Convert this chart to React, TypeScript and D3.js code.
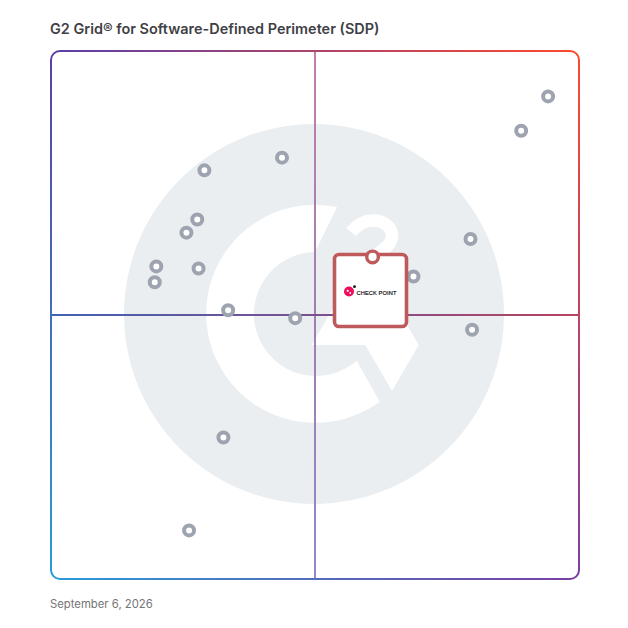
import React from "react";
import * as d3 from "d3";

const titleText = "G2 Grid® for Software-Defined Perimeter (SDP)";
const dateText = "September 6, 2026";
const vendorLabel = "CHECK POINT";

const satisfaction = [43.75, 29.05, 27.7, 25.65, 19.95, 19.65, 27.95, 33.55, 46.25, 32.65, 68.65, 79.45, 79.75, 94.15, 89.05, 26.15];
const marketPresence = [79.8, 77.4, 68.1, 65.6, 59.2, 56.2, 58.8, 50.9, 49.4, 26.8, 57.3, 64.4, 47.2, 91.4, 84.9, 9.2];
const highlightedPoint = [60.9, 61.0];

const x = d3.scaleLinear().domain([0, 100]).range([51, 579]);
const y = d3.scaleLinear().domain([0, 100]).range([579, 51]);

const TL = "#5a3fa8";
const TR = "#ff492c";
const BL = "#2a9bd8";
const BR = "#7b3fa0";
const R = 9;

function Edge({ id, d, x1, y1, x2, y2, c1, c2 }: any) {
  return (
    <>
      <linearGradient id={id} gradientUnits="userSpaceOnUse" x1={x1} y1={y1} x2={x2} y2={y2}>
        <stop offset="0" stopColor={c1} />
        <stop offset="1" stopColor={c2} />
      </linearGradient>
      <path d={d} fill="none" stroke={`url(#${id})`} strokeWidth={2} />
    </>
  );
}

export default function App() {
  const L = x(0), Rt = x(100), T = y(100), B = y(0), mx = x(50), my = y(50);
  const pts = satisfaction.map((s, i) => [x(s), y(marketPresence[i])]);
  const hx = x(highlightedPoint[0]), hy = y(highlightedPoint[1]);
  return (
    <svg width={628} height={628} viewBox="0 0 628 628" style={{ position: "absolute", left: 0, top: 0, background: "#fff" }}>
      <text x={50} y={34} fontFamily="Inter, 'Noto Sans', sans-serif" fontWeight={600} fontSize={14.45} fill="#3f3f46">{titleText}</text>

      {/* watermark */}
      <circle cx={314} cy={314} r={190} fill="#ebeef1" />
      <path d="M337,207 A109,109 0 1 0 379.7,401.7 L356.7,360.7 A62,62 0 1 1 315,252 Z" fill="#fff" />
      <path d="M311.7,345 L365.3,345 L392,391 L418.7,345 L365.3,252.3 Z" fill="#fff" />
      <path d="M351,232 C358,224 366,220.5 373,220.5 C384,220.5 392,227 392,236 C392,244 384,250 372,258" fill="none" stroke="#fff" strokeWidth={12.5} />

      {/* quadrant lines */}
      <defs>
        <linearGradient id="hLine" gradientUnits="userSpaceOnUse" x1={L} y1={my} x2={Rt} y2={my}>
          <stop offset="0" stopColor="#4163b4" />
          <stop offset="0.5" stopColor="#7a4f8f" />
          <stop offset="1" stopColor="#b8445f" />
        </linearGradient>
        <linearGradient id="vLine" gradientUnits="userSpaceOnUse" x1={mx} y1={T} x2={mx} y2={B}>
          <stop offset="0" stopColor="#c07fa8" />
          <stop offset="0.5" stopColor="#a07fb0" />
          <stop offset="1" stopColor="#8f88cc" />
        </linearGradient>
      </defs>
      <line x1={mx} y1={T} x2={mx} y2={B} stroke="url(#vLine)" strokeWidth={2} />
      <line x1={L} y1={my} x2={Rt} y2={my} stroke="url(#hLine)" strokeWidth={2} />

      {/* frame */}
      <Edge id="eTop" d={`M${L + R},${T} H${Rt - R} A${R},${R} 0 0 1 ${Rt},${T + R}`} x1={L} y1={T} x2={Rt} y2={T} c1={TL} c2={TR} />
      <Edge id="eRight" d={`M${Rt},${T + R} V${B - R} A${R},${R} 0 0 1 ${Rt - R},${B}`} x1={Rt} y1={T} x2={Rt} y2={B} c1={TR} c2={BR} />
      <Edge id="eBottom" d={`M${Rt - R},${B} H${L + R} A${R},${R} 0 0 1 ${L},${B - R}`} x1={L} y1={B} x2={Rt} y2={B} c1={BL} c2={BR} />
      <Edge id="eLeft" d={`M${L},${B - R} V${T + R} A${R},${R} 0 0 1 ${L + R},${T}`} x1={L} y1={T} x2={L} y2={B} c1={TL} c2={BL} />

      {/* vendor points */}
      {pts.map(([px, py], i) => (
        <circle key={i} cx={px} cy={py} r={5} fill="#fff" stroke="#9ea3b0" strokeWidth={4} />
      ))}

      {/* highlighted vendor card */}
      <rect x={334.5} y={254.5} width={72} height={72} rx={4.5} fill="#fff" stroke="#bf5a5c" strokeWidth={3.6} />
      <circle cx={hx} cy={hy} r={5.8} fill="#fff" stroke="#bf5a5c" strokeWidth={3.4} />
      <circle cx={349} cy={291.5} r={5} fill="#ee0c5d" />
      <circle cx={347.7} cy={290.8} r={1.1} fill="#fff" />
      <circle cx={350.3} cy={293} r={0.9} fill="#fff" />
      <circle cx={354.5} cy={286.7} r={1.4} fill="#111" />
      <text x={356.5} y={295} fontFamily="'Liberation Sans', Arial, sans-serif" fontWeight={400} fontSize={5.7} letterSpacing={0.1} stroke="#000" strokeWidth={0.15} fill="#000">{vendorLabel}</text>

      <text x={50} y={608} fontFamily="Inter, 'Noto Sans', sans-serif" fontSize={11.3} fill="#757575">{dateText}</text>
    </svg>
  );
}
